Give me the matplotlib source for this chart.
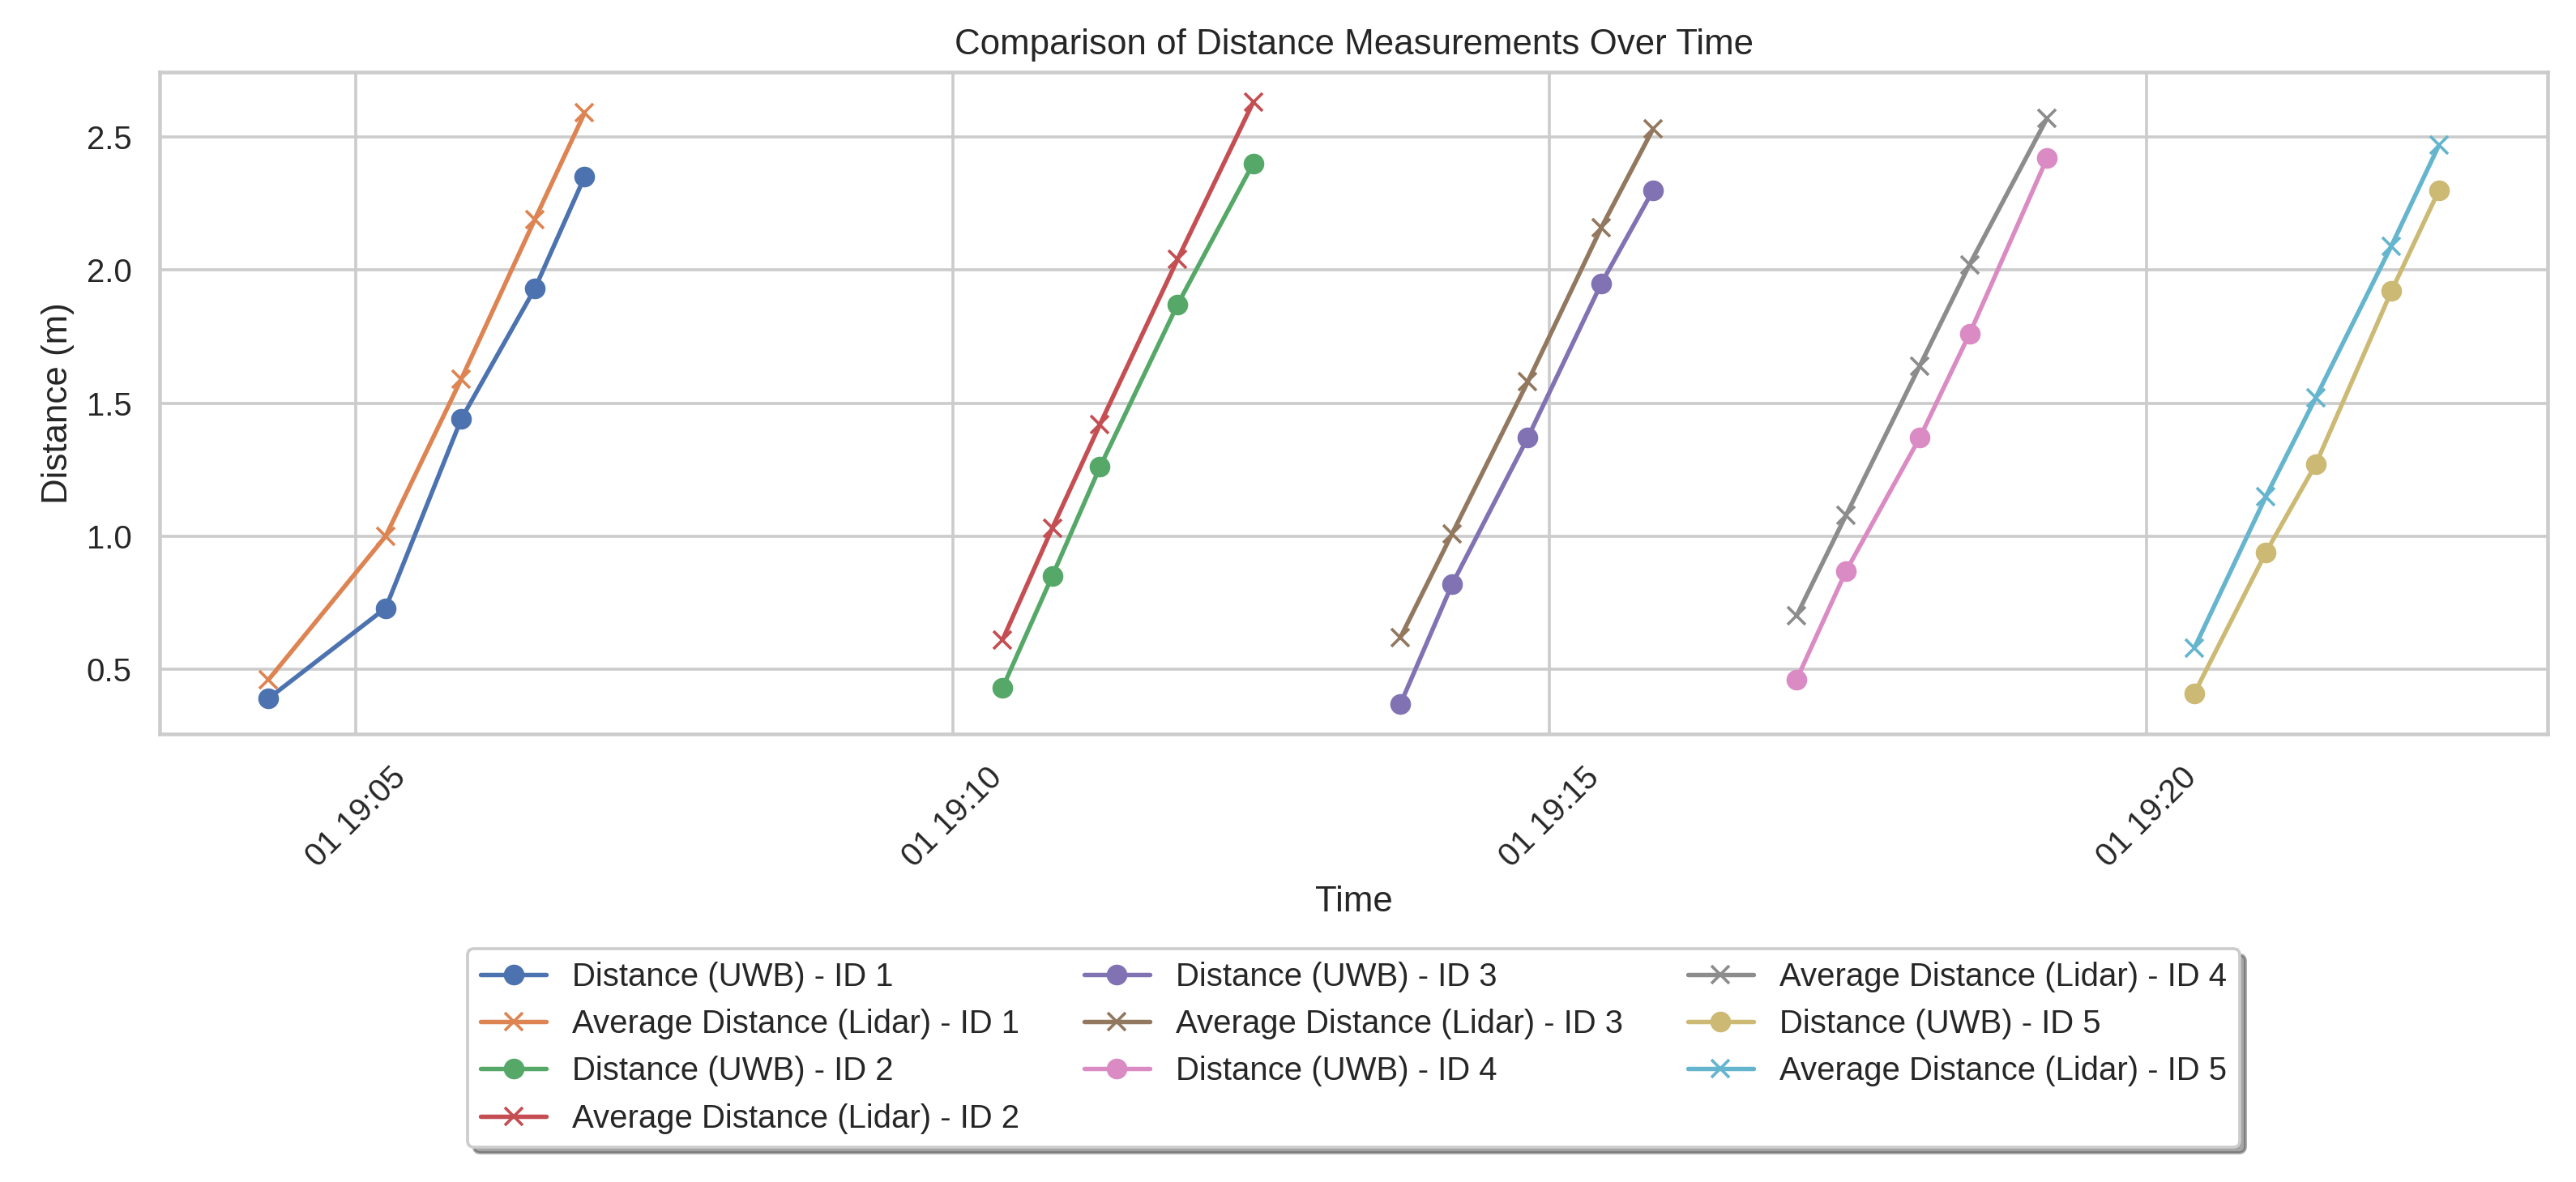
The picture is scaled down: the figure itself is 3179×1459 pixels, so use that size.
import matplotlib
matplotlib.use('Agg')
import matplotlib.pyplot as plt
import seaborn as sns
import pandas as pd

sns.set_theme(style='whitegrid')
plt.rcParams['font.family'] = ['Liberation Sans', 'DejaVu Sans']

day = '2024-07-01 '
ids = [1, 2, 3, 4, 5]
times = [
    ['19:04:16', '19:05:15', '19:05:53', '19:06:30', '19:06:55'],
    ['19:10:25', '19:10:50', '19:11:14', '19:11:53', '19:12:31'],
    ['19:13:45', '19:14:11', '19:14:49', '19:15:26', '19:15:52'],
    ['19:17:04', '19:17:29', '19:18:06', '19:18:31', '19:19:10'],
    ['19:20:24', '19:21:00', '19:21:25', '19:22:03', '19:22:27'],
]
uwb = [
    [0.39, 0.73, 1.44, 1.93, 2.35],
    [0.43, 0.85, 1.26, 1.87, 2.40],
    [0.37, 0.82, 1.37, 1.95, 2.30],
    [0.46, 0.87, 1.37, 1.76, 2.42],
    [0.41, 0.94, 1.27, 1.92, 2.30],
]
lidar = [
    [0.46, 1.00, 1.59, 2.19, 2.59],
    [0.61, 1.03, 1.42, 2.04, 2.63],
    [0.62, 1.01, 1.58, 2.16, 2.53],
    [0.70, 1.08, 1.64, 2.02, 2.57],
    [0.58, 1.15, 1.52, 2.09, 2.47],
]

fig = plt.figure(figsize=(3179/263, 1459/263), dpi=263)
ax = fig.add_subplot(111)
fig.subplots_adjust(left=0.062, right=0.989, top=0.939, bottom=0.379)

for i in range(len(ids)):
    t = pd.to_datetime([day + s for s in times[i]])
    ax.plot(t, uwb[i], marker='o', label='Distance (UWB) - ID ' + str(ids[i]))
    ax.plot(t, lidar[i], marker='x', label='Average Distance (Lidar) - ID ' + str(ids[i]))

ax.set_title('Comparison of Distance Measurements Over Time')
ax.set_xlabel('Time')
ax.set_ylabel('Distance (m)')
plt.xticks(rotation=45)
ax.legend(loc='upper center', bbox_to_anchor=(0.5, -0.3), ncol=3, fancybox=True, shadow=True)

fig.savefig('out.png', dpi=263)
